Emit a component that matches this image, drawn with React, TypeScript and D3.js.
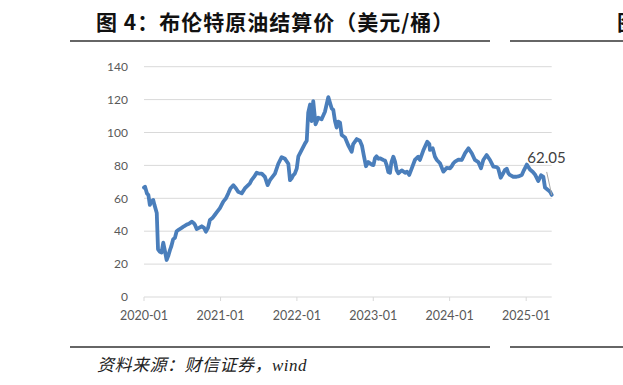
import React from "react";
import * as d3 from "d3";

const dates: string[] = [
  "2020-01-01","2020-01-06","2020-01-15","2020-01-22","2020-01-29","2020-02-06","2020-02-14","2020-02-20","2020-03-02","2020-03-08",
  "2020-03-17","2020-03-25","2020-04-02","2020-04-10","2020-04-18","2020-04-26","2020-05-04","2020-05-11","2020-05-19","2020-05-28",
  "2020-06-05","2020-06-16","2020-06-29","2020-07-10","2020-07-23","2020-08-03","2020-08-16","2020-08-25","2020-09-01","2020-09-09",
  "2020-09-20","2020-10-03","2020-10-14","2020-10-23","2020-11-02","2020-11-11","2020-11-23","2020-12-05","2020-12-17","2020-12-29",
  "2021-01-14","2021-01-27","2021-02-07","2021-02-17","2021-03-03","2021-03-16","2021-03-26","2021-04-12","2021-04-27","2021-05-13",
  "2021-05-21","2021-05-29","2021-06-10","2021-06-23","2021-07-04","2021-07-17","2021-08-01","2021-08-14","2021-08-25","2021-09-06",
  "2021-09-18","2021-10-04","2021-10-20","2021-11-05","2021-11-21","2021-11-29","2021-12-06","2021-12-14","2021-12-22","2021-12-31",
  "2022-01-08","2022-01-24","2022-02-09","2022-02-17","2022-02-24","2022-03-05","2022-03-12","2022-03-20","2022-03-31","2022-04-13",
  "2022-04-29","2022-05-15","2022-05-31","2022-06-16","2022-06-24","2022-07-02","2022-07-10","2022-07-18","2022-07-26","2022-08-03",
  "2022-08-19","2022-09-03","2022-09-20","2022-09-27","2022-10-14","2022-10-29","2022-11-08","2022-11-17","2022-11-27","2022-12-08",
  "2022-12-24","2023-01-02","2023-01-09","2023-01-17","2023-01-26","2023-02-02","2023-02-18","2023-02-26","2023-03-06","2023-03-14",
  "2023-03-22","2023-03-29","2023-04-07","2023-04-15","2023-04-23","2023-05-01","2023-05-17","2023-06-02","2023-06-11","2023-06-22",
  "2023-07-04","2023-07-19","2023-08-04","2023-08-12","2023-08-28","2023-09-16","2023-09-26","2023-09-29","2023-10-12","2023-10-23",
  "2023-11-01","2023-11-16","2023-12-02","2023-12-18","2024-01-03","2024-01-11","2024-01-19","2024-01-27","2024-02-12","2024-02-28",
  "2024-03-15","2024-03-31","2024-04-16","2024-05-01","2024-05-17","2024-05-30","2024-06-10","2024-06-26","2024-07-12","2024-07-28",
  "2024-08-13","2024-08-20","2024-09-01","2024-09-13","2024-09-21","2024-09-30","2024-10-08","2024-10-15","2024-10-31","2024-11-16",
  "2024-11-24","2024-12-11","2024-12-21","2025-01-04","2025-01-19","2025-02-02","2025-02-12","2025-02-28","2025-03-13","2025-03-24",
  "2025-04-01","2025-04-15","2025-04-25","2025-05-03"
];

const brent: number[] = [
  66.5,67,63,62,56,58,59,56,51,29,
  27.5,27,33,28,22.5,25,28.5,31,35,36,
  40,41,42,43,44,44.5,45.8,45,43.8,41.3,
  42,43,42,39.7,42,46.8,48,50,52,54,
  58,60,63,66,68,66,64,63,66,68,
  69,71,73,75.6,75,75,73,68,71,73,
  75,81,85,84,81,71,72,74,75,78,
  85.5,89.4,93.4,95,112,117,107,119,105,109,
  108,112.6,121.5,114.7,113.7,107,103,106.6,106,98.5,
  97,92.4,88.3,93,96,95,92,86,79.5,82,
  80.5,80.2,84.3,85.5,84,84.3,83.3,83,80.2,76,
  75.5,82,85.3,82.3,77,75.2,77,75.5,76.2,74.2,
  78.2,83.3,85.3,83.3,89,94.4,93,89.4,90.4,85.3,
  83.3,81.3,76.2,78.5,78.2,79.5,81.3,82.3,83.5,83.3,
  87.5,90.4,87.4,83.3,82,78.2,83.3,86.3,83.3,79.2,
  79,78.2,72.5,75.2,77.2,78,75.2,74.2,73.1,73.1,
  73.3,74.2,77,80.5,77.5,76,74.5,70.5,74,73,
  66.5,65.1,64,62.05
];

const yTicks: number[] = [0, 20, 40, 60, 80, 100, 120, 140];
const xTickLabels: string[] = ["2020-01", "2021-01", "2022-01", "2023-01", "2024-01", "2025-01"];
const titleText = "图 4：布伦特原油结算价（美元/桶）";
const sourceText = "资料来源：财信证券，wind";
const lastLabel = "62.05";

export default function App() {
  const W = 623, H = 385;
  const parse = d3.timeParse("%Y-%m-%d");
  const parseM = d3.timeParse("%Y-%m");
  const data = dates.map((d, i) => ({ date: parse(d) as Date, value: brent[i] }));

  const plotLeft = 144, plotRight = 551.7, plotTop = 66.7, plotBottom = 297;
  const x = d3.scaleTime()
    .domain(d3.extent(data, d => d.date) as [Date, Date])
    .range([plotLeft, plotRight]);
  const y = d3.scaleLinear().domain([0, 140]).range([plotBottom, plotTop]);

  const line = d3.line<{ date: Date; value: number }>()
    .x(d => x(d.date))
    .y(d => y(d.value));

  const last = data[data.length - 1];
  const lx = x(last.date), ly = y(last.value);

  const axisFont = "Lato, 'Open Sans', sans-serif";

  return (
    <svg width={W} height={H} style={{ position: "absolute", left: 0, top: 0, background: "#fff" }}>
      <rect x={0} y={0} width={W} height={H} fill="#fff" />
      {/* title */}
      <text x={96} y={30} fontFamily="'Noto Sans CJK SC', sans-serif" fontWeight={700} fontSize={21} letterSpacing={1} fill="#111">
        {titleText}
      </text>
      <line x1={70} x2={490} y1={41} y2={41} stroke="#333" strokeWidth={1.5} />
      <line x1={510} x2={623} y1={41} y2={41} stroke="#333" strokeWidth={1.5} />
      <text x={617} y={30} fontFamily="'Noto Sans CJK SC', sans-serif" fontWeight={700} fontSize={21} fill="#111">图</text>

      {/* gridlines */}
      {yTicks.map(t => (
        <line key={"g" + t} x1={plotLeft} x2={plotRight} y1={y(t)} y2={y(t)} stroke="#d9d9d9" strokeWidth={1} />
      ))}
      {/* y labels */}
      {yTicks.map(t => (
        <text key={"yl" + t} x={128} y={y(t)} dy="0.35em" textAnchor="end" fontFamily={axisFont} fontSize={12} fill="#595959">
          {t}
        </text>
      ))}
      {/* x ticks */}
      {xTickLabels.map(s => {
        const xx = x(parseM(s) as Date);
        return (
          <g key={s}>
            <line x1={xx} x2={xx} y1={plotBottom} y2={plotBottom + 4} stroke="#d9d9d9" strokeWidth={1} />
            <text x={xx} y={320} textAnchor="middle" fontFamily={axisFont} fontSize={12.5} fill="#595959">{s}</text>
          </g>
        );
      })}

      {/* series */}
      <path d={line(data) || ""} fill="none" stroke="#4a7ebb" strokeWidth={3.8} strokeLinejoin="round" strokeLinecap="round" />

      {/* last value label */}
      <line x1={lx - 5} y1={ly - 23} x2={lx} y2={ly} stroke="#a6a6a6" strokeWidth={1} />
      <text x={lx + 14} y={ly - 32} textAnchor="end" fontFamily={axisFont} fontSize={15} fill="#404040">{lastLabel}</text>

      {/* footer */}
      <line x1={70} x2={490} y1={347} y2={347} stroke="#333" strokeWidth={1.5} />
      <line x1={510} x2={623} y1={347} y2={347} stroke="#333" strokeWidth={1.5} />
      <text x={97} y={371} fontFamily="'Liberation Serif', 'Noto Sans CJK SC', serif" fontStyle="italic" fontSize={17} letterSpacing={0.5} fill="#222">
        {sourceText}
      </text>
    </svg>
  );
}
